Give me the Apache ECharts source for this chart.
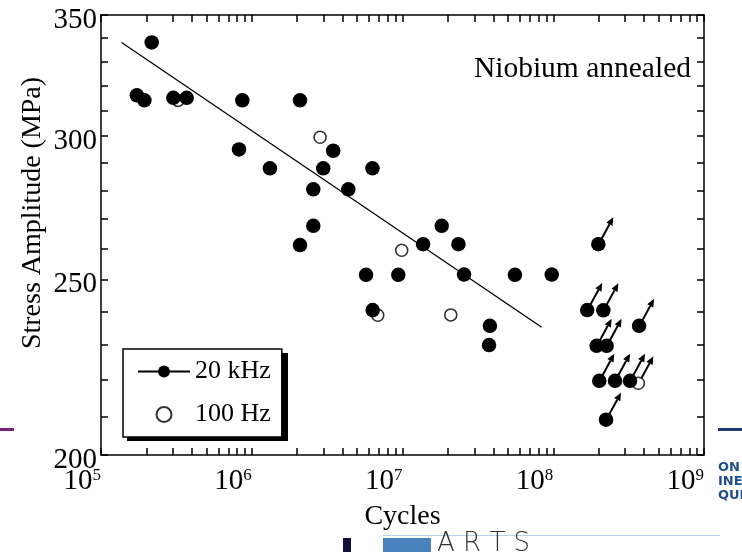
<!DOCTYPE html>
<html><head><meta charset="utf-8">
<script src="https://cdn.jsdelivr.net/npm/echarts@6/dist/echarts.min.js"></script>
<style>html,body{margin:0;padding:0;background:#fff}#c{width:742px;height:552px}</style>
</head><body><div id="c"></div>
<script>
// ---- data ----
const failCycles20k = [2.17e5, 1.73e5, 1.94e5, 3.02e5, 3.70e5, 8.66e5, 2.09e6, 8.23e5, 1.32e6, 3.47e6, 2.98e6, 6.32e6, 2.56e6, 4.37e6, 2.56e6, 2.09e6, 1.82e7, 1.37e7, 2.35e7, 5.73e6, 9.38e6, 2.56e7, 5.57e7, 9.77e7, 6.34e6, 3.80e7, 3.75e7];
const failStress20k = [338, 316, 314, 315, 315, 314, 314, 295, 288, 294.5, 288, 288, 280.4, 280.4, 267.7, 261.2, 267.7, 261.5, 261.5, 251.5, 251.5, 251.6, 251.5, 251.6, 240.5, 235.7, 230];
const runoutCycles20k = [1.99e8, 1.68e8, 2.15e8, 3.71e8, 1.94e8, 2.26e8, 2.02e8, 2.57e8, 3.23e8, 2.24e8];
const runoutStress20k = [261.5, 240.5, 240.4, 235.7, 229.8, 229.8, 219.8, 219.8, 219.8, 209.2];
const failCycles100 = [3.24e5, 2.84e6, 9.88e6, 6.85e6, 2.09e7];
const failStress100 = [314, 299.6, 259.5, 238.9, 239.0];
const runoutCycles100 = [3.67e8];
const runoutStress100 = [219.1];
const fitCycles = [1.37e5, 8.38e7];
const fitStress = [338, 235.3];
const xLabelValues = [1e5, 1e6, 1e7, 1e8, 1e9];
const yLabelValues = [200, 250, 300, 350];
const yTickValues = [200, 210, 220, 230, 240, 250, 260, 270, 280, 290, 300, 310, 320, 330, 340, 350];
const xTickValues = [];
for (let e = 5; e < 9; e++) for (let m = 1; m < 10; m++) xTickValues.push(m * Math.pow(10, e));
xTickValues.push(1e9);

const zip = (a, b) => a.map((v, i) => [v, b[i]]);
const SERIF = "'Liberation Serif','Times New Roman',serif";

const arrowItem = (params, api) => {
  const p = api.coord([api.value(0), api.value(1)]);
  const sx = p[0] + 3, sy = p[1] - 5;
  const tx = p[0] + 15, ty = p[1] - 27;
  const ang = Math.atan2(ty - sy, tx - sx);
  const L = 8, W = 3.5;
  const bx = tx - L * Math.cos(ang), by = ty - L * Math.sin(ang);
  const nx = -Math.sin(ang), ny = Math.cos(ang);
  return { type: 'group', children: [
    { type: 'line', shape: { x1: sx, y1: sy, x2: bx, y2: by }, style: { stroke: '#000', lineWidth: 2 } },
    { type: 'polygon', shape: { points: [[tx, ty], [bx + nx * W, by + ny * W], [bx - nx * W, by - ny * W]] }, style: { fill: '#000' } }
  ]};
};

const tickStyle = { show: true, inside: true, length: 7, lineStyle: { color: '#000', width: 1.5 } };
const lineStyle = { show: true, lineStyle: { color: '#000', width: 1.5 } };

const chart = echarts.init(document.getElementById('c'), null, { renderer: 'canvas' });
chart.setOption({
  animation: false,
  backgroundColor: '#fff',
  title: { text: 'Niobium annealed', right: 51, top: 54, padding: 0,
    textStyle: { fontFamily: SERIF, fontSize: 29.5, fontWeight: 'normal', color: '#000' } },
  grid: { left: 101, right: 38, top: 15, bottom: 97, containLabel: false, outerBoundsMode: 'none' },
  legend: {
    data: ['20 kHz', '100 Hz'], orient: 'vertical', left: 123, top: 349,
    padding: [8, 11, 8, 14], itemGap: 14, itemWidth: 52, itemHeight: 15, itemTextGap: 8,
    backgroundColor: '#fff', borderColor: '#000', borderWidth: 1.5, borderRadius: 0,
    textStyle: { fontFamily: SERIF, fontSize: 26, color: '#000', lineHeight: 29 }
  },
  xAxis: [
    { type: 'log', logBase: 10, min: 1e5, max: 1e9, position: 'bottom',
      axisLine: lineStyle, splitLine: { show: false },
      axisTick: Object.assign({ customValues: xTickValues }, tickStyle),
      axisLabel: { customValues: xLabelValues, margin: 12, align: 'right',
        formatter: v => '{b|10}{s|' + Math.round(Math.log10(v)) + '}',
        rich: { b: { fontFamily: SERIF, fontSize: 29, color: '#000' },
                s: { fontFamily: SERIF, fontSize: 17, color: '#000', verticalAlign: 'top' } } },
      name: 'Cycles', nameLocation: 'middle', nameGap: 48, nameMoveOverlap: false,
      nameTextStyle: { fontFamily: SERIF, fontSize: 28, color: '#000' } },
    { type: 'log', logBase: 10, min: 1e5, max: 1e9, position: 'top',
      axisLine: lineStyle, splitLine: { show: false },
      axisTick: Object.assign({ customValues: xTickValues }, tickStyle),
      axisLabel: { show: false } }
  ],
  yAxis: [
    { type: 'log', logBase: 10, min: 200, max: 350, position: 'left',
      axisLine: lineStyle, splitLine: { show: false },
      axisTick: Object.assign({ customValues: yTickValues }, tickStyle),
      axisLabel: { customValues: yLabelValues, margin: 4,
        formatter: v => '{a|' + v + '}',
        rich: { a: { fontFamily: SERIF, fontSize: 29, color: '#000', padding: [10, 0, 0, 0] } } },
      name: 'Stress Amplitude (MPa)', nameLocation: 'middle', nameGap: 54, nameRotate: 90, nameMoveOverlap: false,
      nameTextStyle: { fontFamily: SERIF, fontSize: 28, color: '#000', padding: [0, 0, 0, 44] } },
    { type: 'log', logBase: 10, min: 200, max: 350, position: 'right',
      axisLine: lineStyle, splitLine: { show: false },
      axisTick: Object.assign({ customValues: yTickValues }, tickStyle),
      axisLabel: { show: false } }
  ],
  series: [
    { name: '20 kHz', type: 'line', data: zip(fitCycles, fitStress), symbol: 'circle', showSymbol: false,
      lineStyle: { color: '#000', width: 1.3 }, itemStyle: { color: '#000' }, silent: true, z: 1 },
    { name: '100 Hz', type: 'scatter', data: zip(failCycles100, failStress100).concat(zip(runoutCycles100, runoutStress100)),
      symbol: 'circle', symbolSize: 12,
      itemStyle: { color: '#fff', borderColor: '#333', borderWidth: 1.6, opacity: 1 }, z: 2 },
    { name: '20 kHz', type: 'scatter', data: zip(failCycles20k, failStress20k).concat(zip(runoutCycles20k, runoutStress20k)),
      symbol: 'circle', symbolSize: 14.5, itemStyle: { color: '#000', opacity: 1 }, z: 3 },
    { name: 'runout', type: 'custom', renderItem: arrowItem,
      data: zip(runoutCycles20k, runoutStress20k).concat(zip(runoutCycles100, runoutStress100)), z: 4, silent: true }
  ],
  graphic: [
    { type: 'rect', z: 1, shape: { x: 127, y: 353, width: 161, height: 88 }, style: { fill: '#000' } },
    { type: 'rect', shape: { x: 0, y: 428, width: 14, height: 3 }, style: { fill: '#7a1f78' } },
    { type: 'rect', shape: { x: 718, y: 428, width: 24, height: 3 }, style: { fill: '#1d3a6b' } },
    { type: 'text', left: 718, top: 461, style: { text: 'ON\nINE\nQUE', fill: '#1f4e8c', font: 'bold 13px "DejaVu Sans", sans-serif', lineHeight: 14 } },
    { type: 'rect', shape: { x: 343, y: 538, width: 8, height: 14 }, style: { fill: '#10103a' } },
    { type: 'rect', shape: { x: 383, y: 538, width: 48, height: 14 }, style: { fill: '#4a82bd' } },
    { type: 'rect', shape: { x: 383, y: 535, width: 337, height: 1 }, style: { fill: '#b8d2ec' } },
    { type: 'text', left: 437, top: 531, style: { text: 'A R T S', fill: '#333', font: 'lighter 26px "DejaVu Sans", sans-serif' } }
  ]
});
</script></body></html>
